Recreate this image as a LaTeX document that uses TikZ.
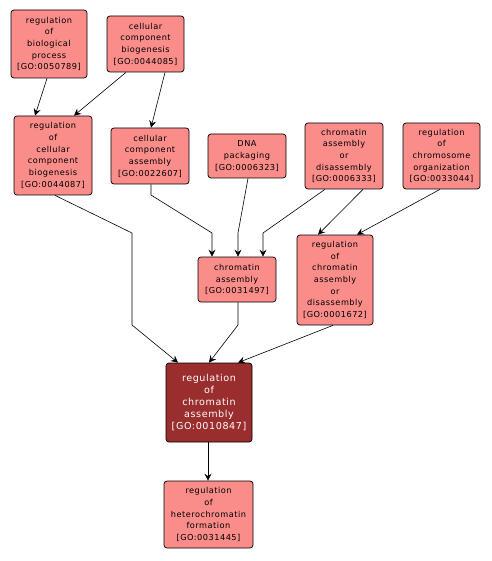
\documentclass[tikz,border=0pt]{standalone}
\usepackage{fontspec}
\setmainfont{DejaVu Sans}[LetterSpace=6]
\usetikzlibrary{arrows.meta, positioning}
\definecolor{termfill}{HTML}{FA8C8A}
\definecolor{focusfill}{HTML}{9A2D2D}

\begin{document}
\begin{tikzpicture}[
    x=1pt, y=-1pt,
    every node/.style={font=\fontsize{8.2}{11.7}\selectfont, align=center, inner sep=0pt},
    term/.style={draw, fill=termfill, rounded corners=3pt, line width=0.7pt},
    focus/.style={term, fill=focusfill, text=white,
                  font=\fontsize{9.6}{11.9}\selectfont},
    arr/.style={-{Stealth[length=7pt, width=7pt, inset=2.5pt]}, line width=0.6pt}
]
    \useasboundingbox (0,0) rectangle (491,561);

    \node[term, minimum width=76pt, minimum height=68pt] (rbp) at (49,   44) {regulation\\of\\biological\\process\\{[GO:0050789]}};
    \node[term, minimum width=77pt, minimum height=56pt] (ccb) at (145.5,44) {cellular\\component\\biogenesis\\{[GO:0044085]}};
    \node[term, minimum width=78pt, minimum height=79pt] (rccb) at (53, 155.5) {regulation\\of\\cellular\\component\\biogenesis\\{[GO:0044087]}};
    \node[term, minimum width=78pt, minimum height=56pt] (cca) at (150,  156) {cellular\\component\\assembly\\{[GO:0022607]}};
    \node[term, minimum width=78pt, minimum height=44pt] (dnap) at (247, 156) {DNA\\packaging\\{[GO:0006323]}};
    \node[term, minimum width=78pt, minimum height=66pt] (cad) at (344,  156) {chromatin\\assembly\\or\\disassembly\\{[GO:0006333]}};
    \node[term, minimum width=77pt, minimum height=66pt] (rco) at (441.5,156) {regulation\\of\\chromosome\\organization\\{[GO:0033044]}};
    \node[term, minimum width=78pt, minimum height=45pt] (ca) at (237, 279.5) {chromatin\\assembly\\{[GO:0031497]}};
    \node[term, minimum width=76pt, minimum height=90pt] (rcad) at (335, 280) {regulation\\of\\chromatin\\assembly\\or\\disassembly\\{[GO:0001672]}};
    \node[focus, minimum width=86pt, minimum height=79pt] (rca) at (209, 402.5) {regulation\\of\\chromatin\\assembly\\{[GO:0010847]}};
    \node[term, minimum width=89pt, minimum height=67pt] (rhf) at (208.5,514.5) {regulation\\of\\heterochromatin\\formation\\{[GO:0031445]}};

    \draw[arr] ([xshift=-2pt]rbp.south) -- ([xshift=-18pt]rccb.north);
    \draw[arr] ([xshift=-19.5pt]ccb.south) -- ([xshift=21pt]rccb.north);
    \draw[arr] ([xshift=19.5pt]ccb.south) -- ([xshift=1pt]cca.north);
    \draw[arr] ([xshift=2pt]rccb.south) -- (132,233) -- (132,325) -- ([xshift=-31pt]rca.north);
    \draw[arr] ([xshift=1pt]cca.south) -- (151,195) -- (212,233) -- ([xshift=-25pt]ca.north);
    \draw[arr] ([xshift=1pt]dnap.south) -- (238,233) -- ([xshift=1pt]ca.north);
    \draw[arr] ([xshift=-19pt]cad.south) -- (263,233) -- ([xshift=26pt]ca.north);
    \draw[arr] ([xshift=19pt]cad.south) -- ([xshift=-17pt]rcad.north);
    \draw[arr] ([xshift=-1.5pt]rco.south) -- ([xshift=22pt]rcad.north);
    \draw[arr] ([xshift=1pt]ca.south) -- (238,325) -- (rca.north);
    \draw[arr] ([xshift=-2pt]rcad.south) -- ([xshift=29pt]rca.north);
    \draw[arr] ([xshift=-1pt]rca.south) -- ([xshift=-0.5pt]rhf.north);
\end{tikzpicture}
\end{document}
